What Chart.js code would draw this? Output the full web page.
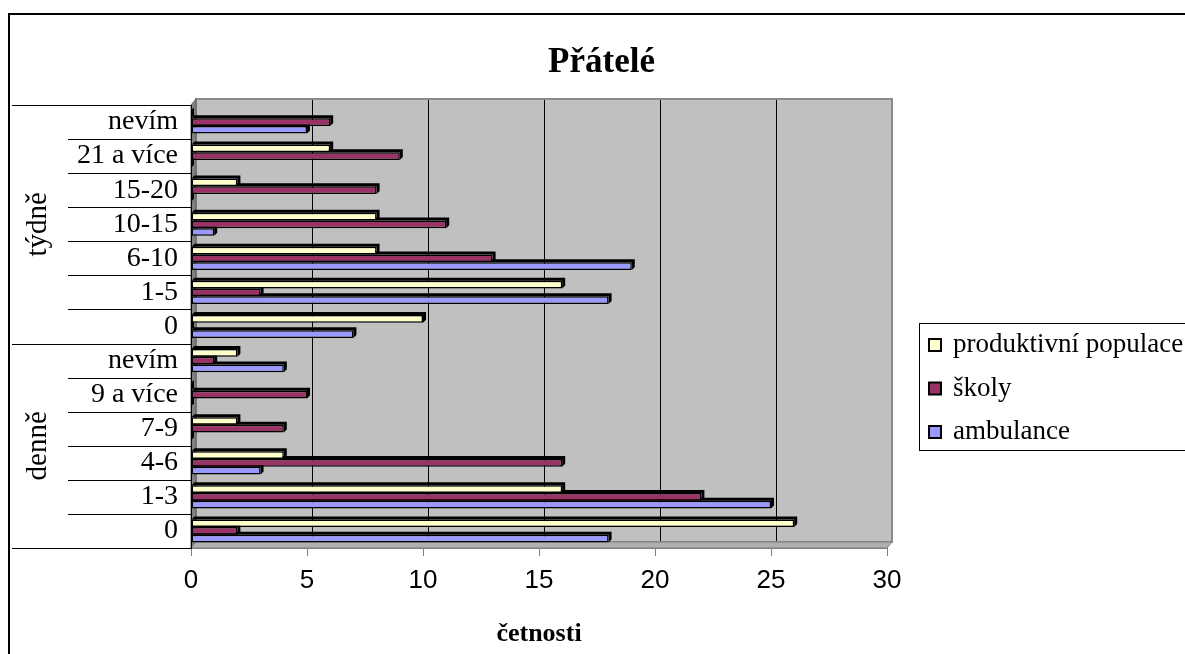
<!doctype html>
<html lang="cs">
<head>
<meta charset="utf-8">
<title>Přátelé</title>
<style>
  * { margin: 0; padding: 0; }
  body { background: #fff; }
  .chartBox { width: 1185px; height: 654px; position: relative; }
</style>
</head>
<body>
<div class="chartBox"><canvas id="myChart"></canvas></div>
<script src="https://cdn.jsdelivr.net/npm/chart.js/dist/chart.umd.min.js"></script>
<script>
// data, listed top to bottom as in the picture
const categories = ['nevím', '21 a více', '15-20', '10-15', '6-10', '1-5', '0',
                    'nevím', '9 a více', '7-9', '4-6', '1-3', '0'];
const groupNames = ['týdně', 'denně'];
const groupSizes = [7, 6];
const seriesNames = ['produktivní populace', 'školy', 'ambulance'];
const produktivni = [0, 6, 2, 8, 8, 16, 10, 2, 0, 2, 4, 16, 26];
const skoly       = [6, 9, 8, 11, 13, 3, 0, 1, 5, 4, 16, 22, 2];
const ambulance   = [5, 0, 0, 1, 19, 18, 7, 4, 0, 0, 3, 25, 18];
const xTicks = [0, 5, 10, 15, 20, 25, 30];

const colors = ['#ffffcc', '#993366', '#9999ff'];
const serif = 'Liberation Serif';
const depth = 3;    // bar extrusion
const wallX = 5;    // back wall offset
const wallY = 6;

function line(ctx, x0, y0, x1, y1) {
  ctx.beginPath(); ctx.moveTo(x0, y0); ctx.lineTo(x1, y1); ctx.stroke();
}
function poly(ctx, pts, fill, stroke) {
  ctx.beginPath();
  pts.forEach((p, i) => i ? ctx.lineTo(p[0], p[1]) : ctx.moveTo(p[0], p[1]));
  ctx.closePath();
  ctx.fillStyle = fill; ctx.fill();
  if (stroke) { ctx.strokeStyle = stroke; ctx.stroke(); }
}

// excel-like 3d walls, bar depth, group labels and boxed legend
const excelLook = {
  id: 'excelLook',
  beforeDraw(chart) {
    const {ctx, chartArea: a, scales: {x}} = chart;
    ctx.save();
    ctx.strokeStyle = '#000'; ctx.lineWidth = 2;
    ctx.strokeRect(9, 14, 1200, 700);
    // back wall
    ctx.fillStyle = '#c0c0c0';
    ctx.fillRect(a.left + wallX, a.top - wallY, a.width, a.height);
    ctx.strokeStyle = '#000'; ctx.lineWidth = 1;
    xTicks.slice(1, -1).forEach(v => {
      const px = Math.round(x.getPixelForValue(v) + wallX) + 0.5;
      line(ctx, px, a.top - wallY, px, a.bottom - wallY);
    });
    ctx.strokeStyle = '#8a8a8a'; ctx.lineWidth = 2;
    ctx.strokeRect(a.left + wallX, a.top - wallY, a.width, a.height);
    ctx.lineWidth = 1;
    // left wall and floor
    poly(ctx, [[a.left, a.top], [a.left + wallX, a.top - wallY], [a.left + wallX, a.bottom - wallY], [a.left, a.bottom]], '#808080', '#606060');
    poly(ctx, [[a.left, a.bottom], [a.left + wallX, a.bottom - wallY], [a.right + wallX, a.bottom - wallY], [a.right, a.bottom]], '#b0b0b0', '#808080');
    ctx.restore();
  },
  beforeDatasetDraw(chart, args) {
    const ctx = chart.ctx;
    ctx.save();
    ctx.fillStyle = '#000';
    args.meta.data.forEach(bar => {
      const {x, y, base, height} = bar.getProps(['x', 'y', 'base', 'height'], true);
      const top = y - height / 2, bottom = y + height / 2;
      ctx.beginPath();
      ctx.moveTo(base, top);
      ctx.lineTo(base + depth, top - depth);
      ctx.lineTo(x + depth, top - depth);
      ctx.lineTo(x + depth, bottom - depth);
      ctx.lineTo(x, bottom);
      ctx.lineTo(x, top);
      ctx.closePath();
      ctx.fill();
    });
    ctx.restore();
  },
  afterDraw(chart) {
    const {ctx, chartArea: a, scales: {y}} = chart;
    ctx.save();
    // separators between categories, longer ones between groups
    const edges = [0];
    groupSizes.forEach(n => edges.push(edges[edges.length - 1] + n));
    ctx.strokeStyle = '#000'; ctx.lineWidth = 1;
    for (let i = 0; i <= categories.length; i++) {
      const py = Math.round(y.getPixelForValue(i - 0.5)) + 0.5;
      line(ctx, edges.includes(i) ? 12 : 68, py, a.left, py);
    }
    // group names
    ctx.font = `29px ${serif}`;
    ctx.fillStyle = '#000';
    ctx.textAlign = 'center';
    ctx.textBaseline = 'middle';
    groupNames.forEach((g, k) => {
      const cy = (y.getPixelForValue(edges[k] - 0.5) + y.getPixelForValue(edges[k + 1] - 0.5)) / 2;
      ctx.save();
      ctx.translate(38, cy);
      ctx.rotate(-Math.PI / 2);
      ctx.fillText(g, 0, 0);
      ctx.restore();
    });
    // legend box
    ctx.strokeStyle = '#000';
    ctx.lineWidth = 1;
    ctx.strokeRect(919.5, 323.5, 300, 127);
    ctx.textAlign = 'left';
    ctx.font = `27px ${serif}`;
    chart.data.datasets.forEach((ds, i) => {
      const cy = 345 + i * 43.5;
      ctx.fillStyle = ds.backgroundColor;
      ctx.fillRect(929, cy - 6, 12, 12);
      ctx.lineWidth = 2;
      ctx.strokeRect(929, cy - 6, 12, 12);
      ctx.fillStyle = '#000';
      ctx.fillText(ds.label, 953, cy);
    });
    ctx.restore();
  }
};

const data = {
  labels: categories,
  datasets: [produktivni, skoly, ambulance].map((values, i) => ({
    label: seriesNames[i],
    data: values,
    backgroundColor: colors[i],
    borderColor: '#000',
    borderWidth: 1.5,
    borderSkipped: false,
    categoryPercentage: 0.68,
    barPercentage: 1.0
  }))
};

const config = {
  type: 'bar',
  data,
  options: {
    indexAxis: 'y',
    responsive: true,
    maintainAspectRatio: false,
    animation: false,
    layout: { padding: { left: 18 } },
    scales: {
      x: {
        type: 'linear',
        min: 0,
        max: 30,
        ticks: { stepSize: 5, color: '#000', padding: 9, font: { family: 'Liberation Sans', size: 26 } },
        grid: { drawOnChartArea: false, tickLength: 8, color: '#808080' },
        border: { color: '#808080' },
        title: {
          display: true,
          text: 'četnosti',
          color: '#000',
          font: { family: serif, size: 26, weight: 'bold' },
          padding: { top: 0, bottom: 4 }
        },
        afterFit: s => { s.height = 106; }
      },
      y: {
        ticks: { color: '#000', padding: 5, autoSkip: false, font: { family: serif, size: 28 } },
        grid: { display: false },
        border: { display: true, color: '#000' },
        afterFit: s => { s.width = 173; }
      },
      legendSpace: {
        axis: 'y',
        position: 'right',
        grid: { display: false },
        ticks: { display: false },
        border: { display: false },
        afterFit: s => { s.width = 298; }
      }
    },
    plugins: {
      legend: { display: false },
      tooltip: { enabled: false },
      title: {
        display: true,
        text: 'Přátelé',
        color: '#000',
        font: { family: serif, size: 35, weight: 'bold' },
        padding: { top: 42, bottom: 21 }
      }
    }
  },
  plugins: [excelLook]
};

const myChart = new Chart(document.getElementById('myChart'), config);
</script>
</body>
</html>
